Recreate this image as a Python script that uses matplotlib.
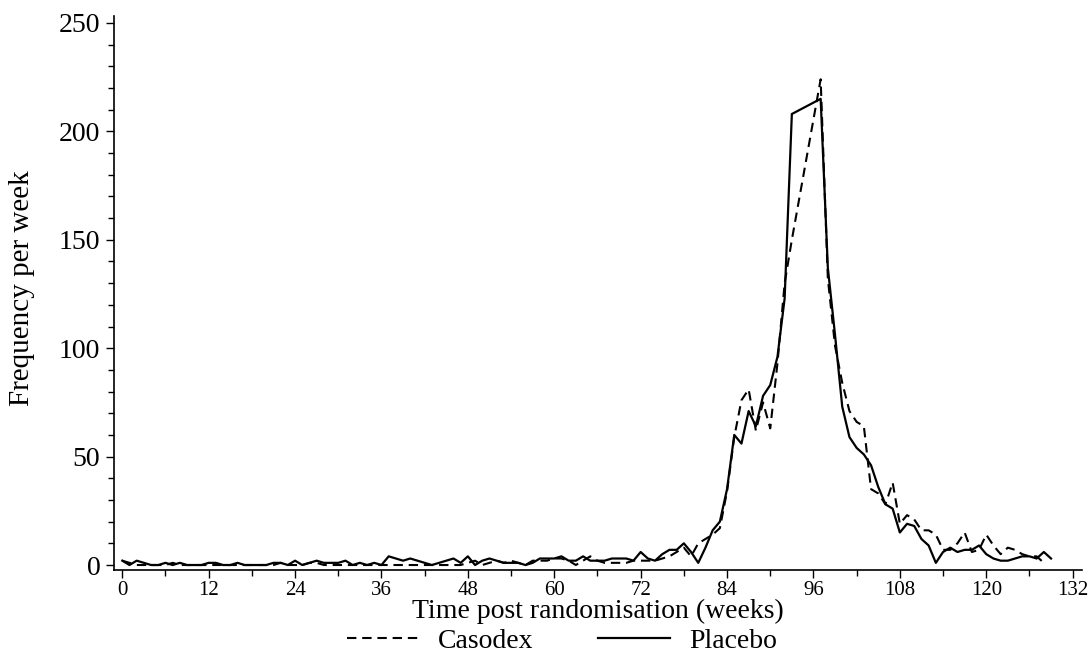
import matplotlib
matplotlib.use('Agg')
from matplotlib import pyplot as plt
from matplotlib.lines import Line2D

plt.rcParams['font.family'] = ['Liberation Serif', 'DejaVu Serif']

# weekly counts (weeks 94-96 missing)
placebo_weeks = list(range(0, 94)) + list(range(97, 130))
placebo = [2, 0, 2, 1, 0, 0, 1, 0, 1, 0,
           0, 0, 1, 1, 0, 0, 1, 0, 0, 0,
           0, 1, 1, 0, 2, 0, 1, 2, 1, 1,
           1, 2, 0, 1, 0, 1, 0, 4, 3, 2,
           3, 2, 1, 0, 1, 2, 3, 1, 4, 0,
           2, 3, 2, 1, 1, 1, 0, 1, 3, 3,
           3, 4, 2, 2, 4, 2, 2, 2, 3, 3,
           3, 2, 6, 3, 2, 5, 7, 7, 10, 6,
           1, 8, 16, 20, 35, 60, 56, 71, 64, 78,
           83, 96, 123, 208,
           215, 137, 106, 73, 59, 54, 51, 46, 36,
           28, 26, 15, 19, 18, 12, 9, 1, 6, 8,
           6, 7, 7, 9, 5, 3, 2, 2, 3, 4,
           4, 3, 6, 3]

casodex_weeks = list(range(0, 94)) + list(range(97, 129))
casodex = [2, 1, 0, 0, 0, 0, 0, 1, 0, 0,
           0, 0, 0, 0, 0, 0, 0, 0, 0, 0,
           0, 0, 1, 0, 0, 0, 1, 1, 0, 0,
           0, 0, 0, 0, 0, 0, 0, 0, 0, 0,
           0, 0, 0, 0, 0, 0, 0, 0, 1, 2,
           0, 1, 2, 1, 2, 1, 0, 2, 2, 2,
           3, 3, 2, 0, 2, 4, 2, 1, 1, 1,
           1, 2, 2, 2, 2, 3, 4, 6, 8, 4,
           10, 12, 14, 17, 34, 59, 76, 81, 62, 75,
           63, 93, 130, 150,
           224, 132, 101, 84, 71, 66, 64, 35, 33,
           28, 38, 19, 23, 21, 16, 16, 14, 7, 7,
           10, 15, 6, 7, 14, 9, 5, 8, 7, 5,
           4, 4, 1]

x_ticks = list(range(0, 133, 12))
y_ticks = [0, 50, 100, 150, 200, 250]

fig = plt.figure(figsize=(10.91, 6.58), dpi=100)
ax = fig.add_axes([114 / 1091, 1 - 570 / 658, (1082 - 114) / 1091, (570 - 16) / 658])

dash = (0, (4.5, 2.8))
ax.plot(casodex_weeks, casodex, color='black', lw=1.5, ls=dash)
ax.plot(placebo_weeks, placebo, color='black', lw=1.6)

ax.set_xlim(-1.15, 133.3)
ax.set_ylim(-2.3, 253.2)
ax.spines['top'].set_visible(False)
ax.spines['right'].set_visible(False)
ax.spines['left'].set_linewidth(1.2)
ax.spines['bottom'].set_linewidth(1.2)

ax.set_xticks(x_ticks)
ax.set_xticks(range(0, 133, 6), minor=True)
ax.set_yticks(y_ticks)
ax.set_yticks(range(0, 251, 10), minor=True)
ax.tick_params(axis='both', which='major', direction='out', length=5.8, width=1)
ax.tick_params(axis='both', which='minor', direction='out', length=4.2, width=1)
ax.tick_params(axis='x', labelsize=15, pad=2)
ax.tick_params(axis='y', labelsize=20, pad=4)

fig.text(0.548, 0.071, 'Time post randomisation (weeks)', ha='center', va='center', fontsize=20)
fig.text(0.02, 0.562, 'Frequency per week', ha='center', va='center', rotation=90, fontsize=21)

handles = [Line2D([], [], color='black', lw=1.5, ls=dash),
           Line2D([], [], color='black', lw=1.6)]
fig.legend(handles, ['Casodex', 'Placebo'], loc='center', bbox_to_anchor=(0.515, 0.026),
           ncol=2, frameon=False, fontsize=20, handlelength=2.6, columnspacing=2.3,
           handletextpad=0.68, borderpad=0)

fig.savefig('out.png', dpi=100)
